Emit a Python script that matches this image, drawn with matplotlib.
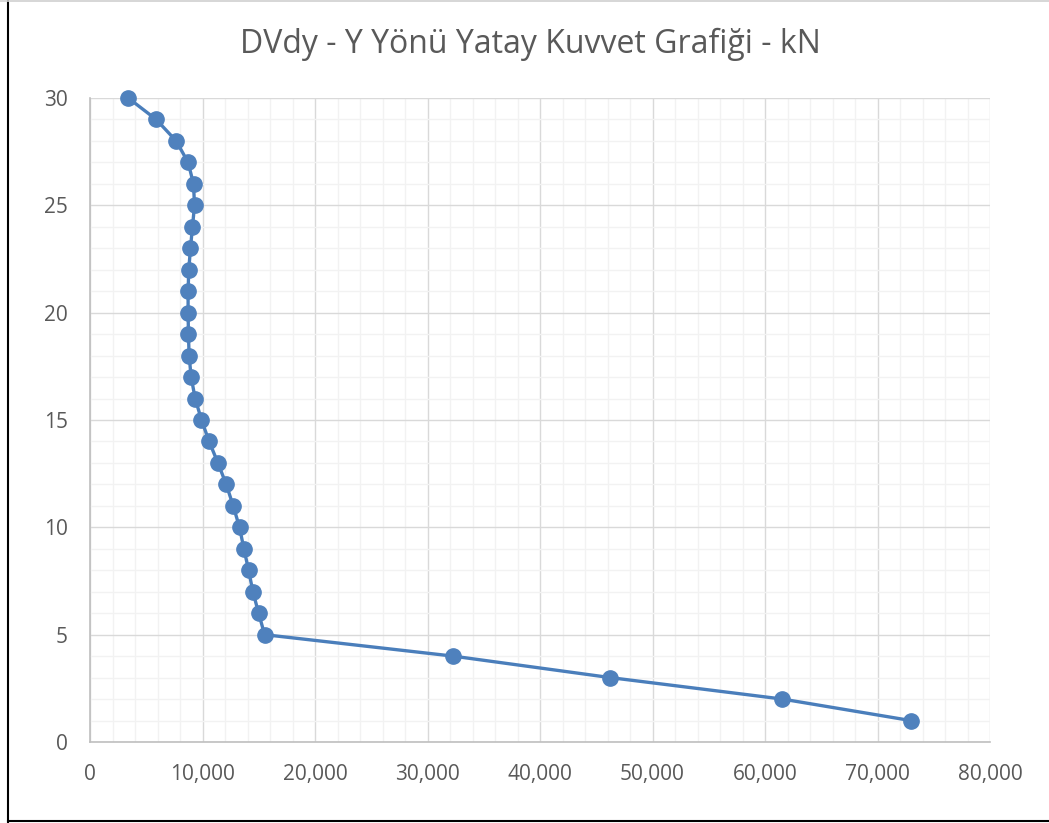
import matplotlib
matplotlib.use("Agg")
import matplotlib.pyplot as plt
from matplotlib.lines import Line2D
from matplotlib.ticker import MultipleLocator, FuncFormatter

# story numbers and horizontal force (kN)
floors = [30, 29, 28, 27, 26, 25, 24, 23, 22, 21, 20, 19, 18, 17, 16,
          15, 14, 13, 12, 11, 10, 9, 8, 7, 6, 5, 4, 3, 2, 1]
force = [3400, 5880, 7660, 8720, 9200, 9290, 9110, 8930, 8780, 8720,
         8720, 8750, 8810, 8990, 9350, 9910, 10590, 11370, 12110, 12730,
         13290, 13680, 14100, 14480, 14990, 15520, 32290, 46250, 61550, 72950]

title = "DVdy - Y Yönü Yatay Kuvvet Grafiği - kN"

plt.rcParams['font.family'] = ['Open Sans', 'DejaVu Sans']
txt_col = '#595959'
W, H = 1049, 823

fig = plt.figure(figsize=(W / 100, H / 100), dpi=100)
ax = fig.add_axes([90 / W, 1 - 742 / H, 900 / W, 644 / H])

ax.plot(force, floors, color='#4A7EBB', lw=2.4, marker='o', ms=11,
        markerfacecolor='#4F81BD', markeredgecolor='#4F81BD', zorder=3, clip_on=False)

ax.set_xlim(0, 80000)
ax.set_ylim(0, 30)
ax.xaxis.set_major_locator(MultipleLocator(10000))
ax.xaxis.set_minor_locator(MultipleLocator(2000))
ax.yaxis.set_major_locator(MultipleLocator(5))
ax.yaxis.set_minor_locator(MultipleLocator(1))
ax.xaxis.set_major_formatter(FuncFormatter(lambda v, p: '{:,.0f}'.format(v)))

ax.grid(which='major', color='#D9D9D9', lw=1.0, zorder=0)
ax.grid(which='minor', color='#F2F2F2', lw=1.0, zorder=0)
ax.set_axisbelow(True)

for s in ['top', 'right']:
    ax.spines[s].set_visible(False)
for s in ['left', 'bottom']:
    ax.spines[s].set_color('#BFBFBF')
    ax.spines[s].set_linewidth(1.2)

ax.tick_params(which='both', length=0, colors=txt_col, labelsize=15)
ax.tick_params(axis='x', pad=16)
ax.tick_params(axis='y', pad=16)

fig.text(530 / W, 1 - 44 / H, title, ha='center', va='center',
         fontsize=23, color=txt_col)

# frame edges of the original chart box
fig.add_artist(Line2D([8 / W, 8 / W], [0, 1], color='black', lw=1.5))
fig.add_artist(Line2D([8 / W, 1], [1 - 821 / H, 1 - 821 / H], color='black', lw=1.5))
fig.add_artist(Line2D([0, 1], [1 - 0.5 / H, 1 - 0.5 / H], color='#D0D0D0', lw=1.2))

fig.savefig('out.png', dpi=100)
